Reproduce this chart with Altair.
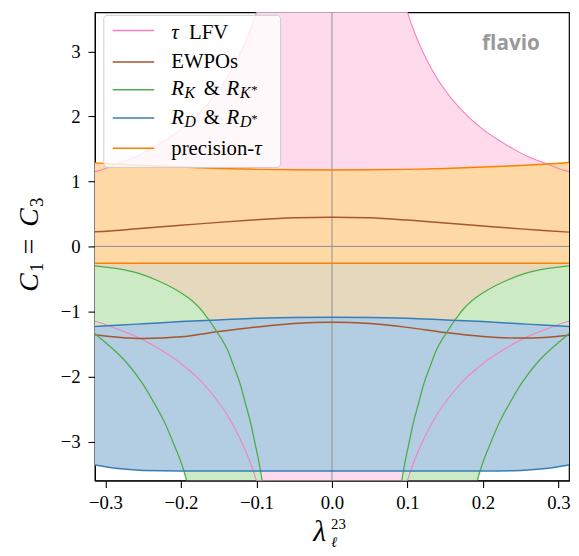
import altair as alt
import pandas as pd

# ---------------- data ----------------
# x grid for the smooth bands
LAM_BAND = [-0.314, -0.28, -0.25, -0.2, -0.15, -0.1, -0.05, 0.0, 0.05, 0.1, 0.15, 0.2, 0.25, 0.28, 0.314]
EWPO_UP = [0.224, 0.25, 0.28, 0.325, 0.37, 0.41, 0.44, 0.45, 0.44, 0.405, 0.36, 0.315, 0.27, 0.245, 0.22]
EWPO_LO = [-1.36, -1.40, -1.415, -1.39, -1.31, -1.24, -1.185, -1.166, -1.185, -1.245, -1.325, -1.385, -1.41, -1.40, -1.365]
PREC_UP = [1.285, 1.265, 1.245, 1.22, 1.20, 1.185, 1.178, 1.176, 1.178, 1.185, 1.20, 1.22, 1.245, 1.265, 1.29]
PREC_LO = [-0.26, -0.26, -0.26, -0.26, -0.26, -0.26, -0.26, -0.26, -0.26, -0.26, -0.26, -0.26, -0.26, -0.26, -0.26]
RD_UP = [-1.23, -1.21, -1.19, -1.155, -1.13, -1.105, -1.092, -1.09, -1.092, -1.105, -1.13, -1.155, -1.19, -1.21, -1.23]
RD_LO = [-3.36, -3.42, -3.445, -3.452, -3.452, -3.452, -3.452, -3.452, -3.452, -3.452, -3.452, -3.452, -3.445, -3.42, -3.36]

# tau LFV: allowed band is |C| < TAU_UP
LAM_TAU = [-0.314, -0.3, -0.28, -0.26, -0.24, -0.22, -0.2, -0.18, -0.16, -0.14, -0.13, -0.12, -0.11, -0.1, -0.095, -0.09,
           0.0, 0.09, 0.095, 0.1, 0.11, 0.12, 0.13, 0.14, 0.16, 0.18, 0.2, 0.22, 0.24, 0.26, 0.28, 0.3, 0.314]
TAU_UP = [1.15, 1.2, 1.29, 1.38, 1.5, 1.64, 1.8, 2.0, 2.25, 2.57, 2.77, 3.0, 3.27, 3.6, 3.79, 4.0,
          4.0, 4.0, 3.79, 3.6, 3.27, 3.0, 2.77, 2.57, 2.25, 2.0, 1.8, 1.64, 1.5, 1.38, 1.29, 1.2, 1.15]

# R_K & R_K*: two boundary curves on each side, given as |lambda| at values of C
RK_C = [-3.6, -3.3, -3.0, -2.7, -2.4, -2.1, -1.8, -1.6, -1.4, -1.34, -1.25, -1.1, -0.95, -0.8, -0.65, -0.52, -0.42, -0.35, -0.30]
RK_INNER = [0.0925, 0.097, 0.1025, 0.108, 0.115, 0.122, 0.1315, 0.138, 0.1475, 0.151, 0.156, 0.165, 0.175, 0.189, 0.209, 0.232, 0.255, 0.28, 0.314]
RK_OUTER = [0.1925, 0.2005, 0.211, 0.222, 0.236, 0.2515, 0.271, 0.288, 0.308, 0.314, 0.314, 0.314, 0.314, 0.314, 0.314, 0.314, 0.314, 0.314, 0.314]
RK_OUTER_N = 10  # outer curve visible only for the first points (until it leaves the frame)

X_TICKS = [-0.3, -0.2, -0.1, 0.0, 0.1, 0.2, 0.3]
Y_TICKS = [-3, -2, -1, 0, 1, 2, 3]
LABELS = ["\u03c4 LFV", "EWPOs", "R_K & R_K*", "R_D & R_D*", "precision-\u03c4"]

# ---------------- styling ----------------
PINK_L, PINK_F = "#f781bf", "#fddaec"
BROWN_L, BROWN_F = "#a65628", "#e5d8bd"
GREEN_L, GREEN_F = "#4daf4a", "#ccebc5"
BLUE_L, BLUE_F = "#377eb8", "#b3cde3"
ORANGE_L, ORANGE_F = "#ff7f00", "#fed9a6"
SERIF = "Liberation Serif"
W, H = 480, 474

xs = alt.Scale(domain=[-0.314, 0.314], nice=False, zero=False)
ys = alt.Scale(domain=[-3.6, 3.6], nice=False, zero=False)
XE = alt.X("x:Q", scale=xs, axis=alt.Axis(values=X_TICKS, format=".1f", title=None))
YE = alt.Y("y:Q", scale=ys, axis=alt.Axis(values=Y_TICKS, format="d", title=None))


def band(lam, up, lo, color):
    df = pd.DataFrame({"x": lam, "y": up, "y2": lo})
    return alt.Chart(df).mark_area(color=color, opacity=1, clip=True, interpolate="monotone").encode(
        x=XE, y=YE, y2="y2:Q")


def curve(lam, vals, color, w=1.3, interp="monotone"):
    df = pd.DataFrame({"x": lam, "y": vals, "o": list(range(len(lam)))})
    return alt.Chart(df).mark_line(color=color, strokeWidth=w, clip=True, interpolate=interp).encode(
        x=XE, y=YE, order="o:Q")


neg = lambda a: [-v for v in a]

# fills (drawn in this order, opaque)
tau_fill = band(LAM_TAU, TAU_UP, neg(TAU_UP), PINK_F)
ew_fill = band(LAM_BAND, EWPO_UP, EWPO_LO, BROWN_F)
rk_layers = []
for sgn in (-1, 1):
    df = pd.DataFrame({"y": RK_C,
                       "x": [sgn * v for v in RK_OUTER],
                       "x2": [sgn * v for v in RK_INNER]})
    rk_layers.append(alt.Chart(df).mark_area(color=GREEN_F, opacity=1, clip=True, orient="horizontal",
                                             interpolate="catmull-rom").encode(
        y=YE, x=XE, x2="x2:Q"))
rd_fill = band(LAM_BAND, RD_UP, RD_LO, BLUE_F)
pr_fill = band(LAM_BAND, PREC_UP, PREC_LO, ORANGE_F)

# zero lines
zx = alt.Chart(pd.DataFrame({"x": [0.0]})).mark_rule(color="#909090", strokeWidth=1).encode(x=XE)
zy = alt.Chart(pd.DataFrame({"y": [0.0]})).mark_rule(color="#909090", strokeWidth=1).encode(y=YE)

# boundary lines
lines = [
    curve(LAM_TAU, TAU_UP, PINK_L, 1.1),
    curve(LAM_TAU, neg(TAU_UP), PINK_L, 1.1),
    curve(LAM_BAND, EWPO_UP, BROWN_L, 1.5),
    curve(LAM_BAND, EWPO_LO, BROWN_L, 1.5),
]
for sgn in (-1, 1):
    lines.append(curve([sgn * v for v in RK_INNER], RK_C, GREEN_L, 1.3, "catmull-rom"))
    lines.append(curve([sgn * v for v in RK_OUTER[:RK_OUTER_N]], RK_C[:RK_OUTER_N], GREEN_L, 1.3, "catmull-rom"))
lines += [
    curve(LAM_BAND, RD_UP, BLUE_L, 1.5),
    curve(LAM_BAND, RD_LO, BLUE_L, 1.5),
    curve(LAM_BAND, PREC_UP, ORANGE_L, 1.5),
    curve(LAM_BAND, PREC_LO, ORANGE_L, 1.5),
]

# ---------------- decorations (legend, titles, watermark) ----------------
dummy = pd.DataFrame({"k": [0]})


def txt(s, x, y, size, italic=False, angle=0, font=SERIF, color="black", weight="normal"):
    return alt.Chart(dummy).mark_text(text=s, fontSize=size, font=font,
                                      fontStyle="italic" if italic else "normal",
                                      align="left", baseline="alphabetic", angle=angle,
                                      color=color, fontWeight=weight).encode(
        x=alt.value(x), y=alt.value(y))


legend_bg = alt.Chart(dummy).mark_rect(fill="white", fillOpacity=0.8, stroke="#cccccc", strokeWidth=1,
                                       cornerRadius=4).encode(
    x=alt.value(9), x2=alt.value(188), y=alt.value(3), y2=alt.value(157))

row_y = [18.3, 50.3, 78.3, 107, 137.7]
row_base = [27, 56, 83.7, 112.7, 144.3]
row_col = [PINK_L, BROWN_L, GREEN_L, BLUE_L, ORANGE_L]
legend = [legend_bg]
for yc, c in zip(row_y, row_col):
    legend.append(alt.Chart(dummy).mark_rule(color=c, strokeWidth=1.5).encode(
        x=alt.value(18), x2=alt.value(60), y=alt.value(yc)))

LS, SS, ST = 21, 16, 13
tx = 77.3
legend += [
    txt("\u03c4", tx, row_base[0], LS, italic=True),
    txt("LFV", tx + 18, row_base[0], LS),
    txt("EWPOs", tx, row_base[1], LS),
    # R_K & R_K*
    txt("R", tx, row_base[2], LS, italic=True),
    txt("K", tx + 13.5, row_base[2] + 3.5, SS, italic=True),
    txt("&", tx + 33, row_base[2], LS),
    txt("R", tx + 56, row_base[2], LS, italic=True),
    txt("K", tx + 69.5, row_base[2] + 3.5, SS, italic=True),
    txt("*", tx + 81, row_base[2] - 1, ST),
    # R_D & R_D*
    txt("R", tx, row_base[3], LS, italic=True),
    txt("D", tx + 13.5, row_base[3] + 3.5, SS, italic=True),
    txt("&", tx + 33, row_base[3], LS),
    txt("R", tx + 56, row_base[3], LS, italic=True),
    txt("D", tx + 69.5, row_base[3] + 3.5, SS, italic=True),
    txt("*", tx + 81, row_base[3] - 1, ST),
    txt("precision-", tx, row_base[4], LS),
    txt("\u03c4", tx + 84, row_base[4], LS, italic=True),
]

watermark = txt("flavio", 392, 38, 21, font="Open Sans", color="#9a9a9a", weight="bold")

# axis titles (pixel positions relative to the plot area)
xtitle = [
    txt("\u03bb", 221, 535, 30, italic=True),
    txt("23", 239, 523, 15),
    txt("\u2113", 239, 541, 15, italic=True),
]
ytitle = [
    txt("C", -58, 283, 28, italic=True, angle=270),
    txt("1", -53, 263, 19, angle=270),
    txt("=", -58, 245, 28, angle=270),
    txt("C", -58, 217, 28, italic=True, angle=270),
    txt("3", -53, 197, 19, angle=270),
]

chart = alt.layer(
    tau_fill, ew_fill, *rk_layers, rd_fill, pr_fill, zx, zy, *lines,
    *legend, watermark, *xtitle, *ytitle
).properties(
    width=W, height=H,
    autosize=alt.AutoSizeParams(type="none"),
    padding={"left": 88, "top": 1, "right": 2, "bottom": 70},
).configure_view(
    stroke="black", strokeWidth=1.2
).configure_axis(
    labelFont=SERIF, labelFontSize=19, labelColor="black",
    tickColor="black", tickSize=7, tickWidth=1.1,
    domainColor="black", domainWidth=1.2, grid=False,
).configure_axisX(
    labelPadding=6
).configure_axisY(
    labelPadding=8
)

chart.save("out.html", embed_options={"renderer": "svg", "actions": False})
